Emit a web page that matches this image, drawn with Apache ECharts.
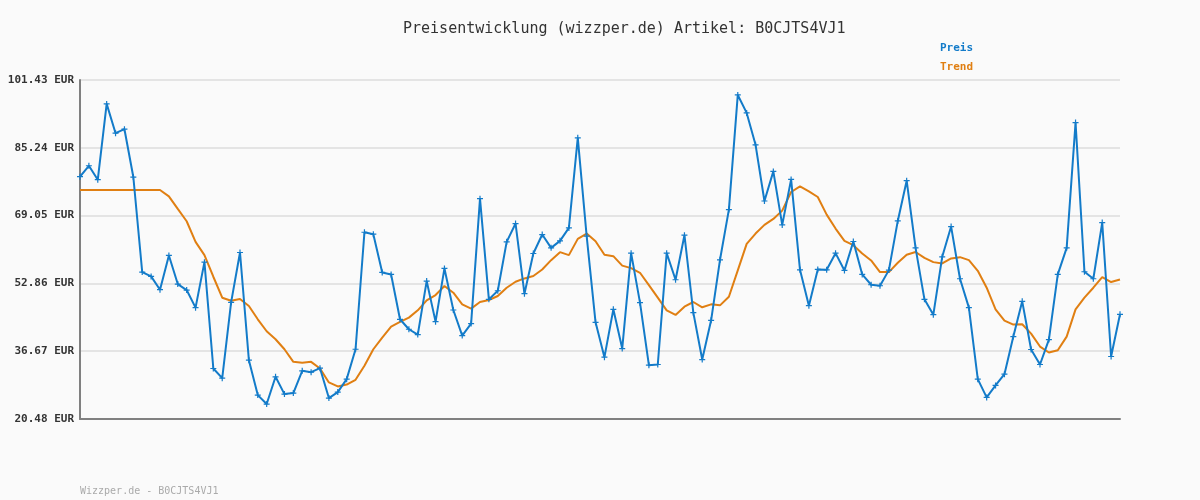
<!DOCTYPE html>
<html>
<head>
<meta charset="utf-8">
<script src="https://cdn.jsdelivr.net/npm/echarts@6/dist/echarts.min.js"></script>
<style>html,body{margin:0;padding:0;background:#fafafa;}#c{width:1200px;height:500px;}</style>
</head>
<body>
<div id="c"></div>
<script>
const titleText = 'Preisentwicklung (wizzper.de) Artikel: B0CJTS4VJ1';
const footerText = 'Wizzper.de - B0CJTS4VJ1';
const yMin = 20.48, yMax = 101.43, yStep = 16.19;
const preis = [78.34,80.95,77.62,95.72,88.73,89.68,78.26,55.56,54.53,51.35,
59.53,52.70,51.27,47.07,57.94,32.54,30.24,48.34,60.24,34.53,
26.19,24.05,30.56,26.43,26.67,31.99,31.67,32.62,25.48,26.91,
30.00,37.14,65.08,64.61,55.48,55.00,44.29,41.91,40.64,53.42,
43.73,56.43,46.51,40.40,43.26,73.10,49.05,51.11,62.78,67.15,
50.40,60.00,64.53,61.35,63.02,66.11,87.62,64.13,43.57,35.24,
46.67,37.30,60.08,48.26,33.34,33.50,60.08,53.73,64.37,45.88,
34.68,44.05,58.50,70.48,97.86,93.57,85.95,72.54,79.61,66.83,
77.70,56.11,47.54,56.19,56.11,60.08,55.96,62.86,55.00,52.54,
52.30,56.03,67.78,77.38,61.35,49.05,45.40,59.21,66.43,53.97,
47.07,30.00,25.64,28.50,31.19,40.16,48.57,37.07,33.50,39.45,
55.00,61.35,91.27,55.64,53.97,67.38,35.40,45.48];
const trend = [75.16,75.16,75.16,75.16,75.16,75.16,75.16,75.16,75.16,75.16,
73.65,70.64,67.70,62.78,59.61,54.45,49.45,48.73,49.13,47.46,
44.29,41.43,39.53,37.14,34.13,33.89,34.13,32.54,29.21,28.26,
28.70,29.84,33.18,37.14,39.93,42.54,43.65,44.69,46.43,48.81,
50.08,52.23,50.64,47.86,46.83,48.42,48.89,49.85,51.83,53.26,
54.05,54.61,56.19,58.41,60.32,59.61,63.49,64.76,62.94,59.69,
59.37,57.10,56.51,55.40,52.46,49.45,46.43,45.32,47.30,48.42,
47.15,47.86,47.62,49.68,55.96,62.30,64.76,66.83,68.26,70.24,
74.68,76.03,74.84,73.49,69.29,65.95,63.02,61.99,60.00,58.34,
55.56,55.56,57.78,59.70,60.36,58.97,57.94,57.62,58.81,59.13,
58.41,55.87,51.83,46.67,43.97,43.02,43.10,40.87,37.78,36.35,
36.91,40.16,46.67,49.45,51.83,54.37,53.18,53.81];
const categories = preis.map((_, i) => String(i + 1));
const mono = "'DejaVu Sans Mono', monospace";
const blue = '#137bc9', orange = '#e07f12';
const chart = echarts.init(document.getElementById('c'));
chart.setOption({
  backgroundColor: '#fafafa',
  animation: false,
  title: [
    {text: titleText, left: 398, top: 17, textStyle: {fontFamily: mono, fontSize: 15, fontWeight: 'normal', color: '#333'}},
    {text: footerText, left: 75, top: 481, textStyle: {fontFamily: mono, fontSize: 10, fontWeight: 'normal', color: '#aaa'}}
  ],
  legend: {
    orient: 'vertical', left: 930, top: 37, itemGap: 8, icon: 'none', itemWidth: 0, itemHeight: 12,
    textStyle: {fontFamily: mono, fontSize: 11, fontWeight: 'bold'},
    data: [
      {name: 'Preis', textStyle: {color: blue}},
      {name: 'Trend', textStyle: {color: orange}}
    ]
  },
  grid: {left: 80, right: 80, top: 80, bottom: 81},
  xAxis: {
    type: 'category', data: categories, boundaryGap: false,
    axisLine: {lineStyle: {color: '#808080', width: 2}},
    axisTick: {show: false}, axisLabel: {show: false}, splitLine: {show: false}
  },
  yAxis: {
    type: 'value', min: yMin, max: yMax, interval: yStep,
    axisLine: {show: true, lineStyle: {color: '#808080', width: 2}},
    axisTick: {show: false},
    axisLabel: {margin: 6, fontFamily: mono, fontSize: 11, fontWeight: 'bold', color: '#333',
      formatter: v => v.toFixed(2) + ' EUR'},
    splitLine: {lineStyle: {color: '#e4e4e4', width: 2}}
  },
  series: [
    {name: 'Preis', type: 'line', data: preis, color: blue,
     lineStyle: {width: 2, color: blue},
     symbol: 'path://M2,0H3V2H5V3H3V5H2V3H0V2H2Z', symbolSize: 6, showAllSymbol: true,
     itemStyle: {color: blue}, z: 3},
    {name: 'Trend', type: 'line', data: trend, color: orange,
     lineStyle: {width: 2, color: orange}, showSymbol: false, symbol: 'none', z: 2}
  ]
});
</script>
</body>
</html>
